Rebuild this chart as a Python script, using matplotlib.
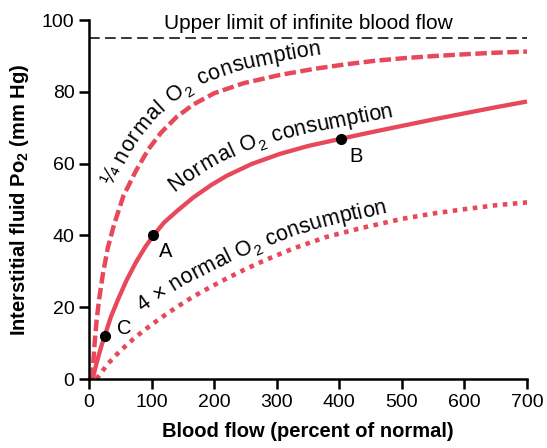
import numpy as np
import matplotlib
matplotlib.use('Agg')
import matplotlib.pyplot as plt
from matplotlib.font_manager import FontProperties, findfont, get_font
from matplotlib.transforms import IdentityTransform

plt.rcParams['font.family'] = 'Liberation Sans'
plt.rcParams['mathtext.fontset'] = 'custom'
plt.rcParams['mathtext.rm'] = 'Liberation Sans'
plt.rcParams['mathtext.bf'] = 'Liberation Sans:bold'

# curves (blood flow %, interstitial Po2 mm Hg)
flow_quarter = [5, 7, 9, 12, 16, 22, 30, 40, 55, 75, 95, 115, 140, 167, 200, 247, 305, 360, 412, 460, 505, 555, 605, 650, 700]
po2_quarter = [0, 5, 10, 16, 22, 29, 36.5, 43, 51, 58, 64, 68.6, 73, 76.5, 79.6, 82.4, 84.7, 86.4, 87.7, 88.7, 89.4, 90, 90.5, 90.9, 91.2]

flow_normal = [6, 10, 15, 20, 25, 35, 46, 60, 75, 90, 103, 120, 142, 167, 195, 220, 260, 305, 350, 402, 450, 500, 550, 600, 650, 700]
po2_normal = [0, 3, 6.3, 9.3, 12, 17.3, 22, 27.5, 32.5, 36.8, 40, 43.6, 47.0, 50.6, 54.0, 56.6, 59.9, 62.7, 64.9, 66.9, 68.7, 70.5, 72.3, 74.0, 75.7, 77.3]

flow_4x = [12, 30, 49, 70, 86, 113, 140, 167, 195, 220, 250, 280, 327, 380, 434, 500, 550, 600, 650, 700]
po2_4x = [0, 4.2, 7.7, 11, 13.3, 16.8, 20, 23, 25.7, 28, 30.6, 33, 36.4, 39.6, 42, 44.6, 46.1, 47.3, 48.4, 49.2]

upper_limit = 95

point_flow = [103, 402, 25]
point_po2 = [40, 66.8, 12]
point_names = ['A', 'B', 'C']

red = '#e8495a'
FS = 14.5

fig = plt.figure(figsize=(5.47, 4.48), dpi=100)
ax = fig.add_axes([0.1627, 0.154, 0.8007, 0.8013])

ax.plot(flow_normal, po2_normal, color=red, lw=3.1, solid_capstyle='butt', clip_on=False)
ax.plot(flow_quarter, po2_quarter, color=red, lw=3.2, dashes=(2.6, 1.0), dash_capstyle='butt', clip_on=False)
ax.plot(flow_4x, po2_4x, color=red, lw=3.3, dashes=(1.0, 1.2), dash_capstyle='butt', clip_on=False)
ax.plot([0, 700], [upper_limit, upper_limit], color='black', lw=1.1, dashes=(7, 3.5))

ax.plot(point_flow, point_po2, 'o', color='black', ms=7, zorder=5, clip_on=False)
label_off = [(6, -16), (9, -17), (12, 7)]
for x, y, s, o in zip(point_flow, point_po2, point_names, label_off):
    ax.annotate(s, (x, y), xytext=o, textcoords='offset pixels', fontsize=FS,
                ha='left', va='center')

ax.text(350, 97.6, 'Upper limit of infinite blood flow', fontsize=15, ha='center',
        va='baseline', clip_on=False)

ax.set_xlim(0, 700)
ax.set_ylim(0, 100)
ax.set_xticks(range(0, 701, 100))
ax.set_yticks(range(0, 101, 20))
for side in ['top', 'right']:
    ax.spines[side].set_visible(False)
for side in ['left', 'bottom']:
    ax.spines[side].set_linewidth(1.8)
ax.tick_params(length=7.5, width=1.8, labelsize=14, pad=3)
ax.set_xlabel('Blood flow (percent of normal)', fontsize=14.5, fontweight='bold', labelpad=8)
ax.set_ylabel(r'Interstitial fluid Po$_\mathbf{2}$ (mm Hg)', fontsize=14.5, fontweight='bold', labelpad=8)


def text_along(parts, xs, ys, x_start, off0, off1, size):
    # writes the label letter by letter along the curve, like in the book figure
    pts = ax.transData.transform(np.column_stack([xs, ys]))
    arc = np.concatenate([[0], np.cumsum(np.hypot(*np.diff(pts, axis=0).T))])

    def at(s):
        return np.array([np.interp(s, arc, pts[:, 0]), np.interp(s, arc, pts[:, 1])])

    px0 = ax.transData.transform((x_start, 0))[0]
    s0 = np.interp(px0, pts[:, 0], arc)
    glyphs = []
    for txt, scale, shift in parts:
        prop = FontProperties(family='Liberation Sans', size=size * scale)
        font = get_font(findfont(prop))
        font.set_size(size * scale, fig.dpi)
        for ch in txt:
            g = font.load_char(ord(ch))
            glyphs.append((ch, prop, g.linearHoriAdvance / 65536, shift))
    total = sum(g[2] for g in glyphs)
    pos = 0
    for ch, prop, w, shift in glyphs:
        sc = s0 + pos + w / 2
        p = at(sc)
        d = at(sc + 14) - at(sc - 14)
        ang = np.arctan2(d[1], d[0])
        off = off0 + (off1 - off0) * (pos / total) + shift
        x = p[0] - np.sin(ang) * off
        y = p[1] + np.cos(ang) * off
        if ch != ' ':
            fig.text(x, y, ch, fontproperties=prop, transform=IdentityTransform(),
                     rotation=np.degrees(ang), rotation_mode='anchor',
                     ha='center', va='baseline')
        pos += w


sub = -5
LS = 15.5
text_along([('\u00bc normal O', 1, 0), ('2', 0.7, sub), (' consumption', 1, 0)],
           flow_quarter, po2_quarter, 58, 14, 13, LS)
text_along([('Normal O', 1, 0), ('2', 0.7, sub), (' consumption', 1, 0)],
           flow_normal, po2_normal, 152, 16, 10.5, LS)
text_along([('4 \u00d7 normal O', 1, 0), ('2', 0.7, sub), (' consumption', 1, 0)],
           flow_4x, po2_4x, 100, 16, 9, LS)

fig.savefig('out.png', dpi=100)
